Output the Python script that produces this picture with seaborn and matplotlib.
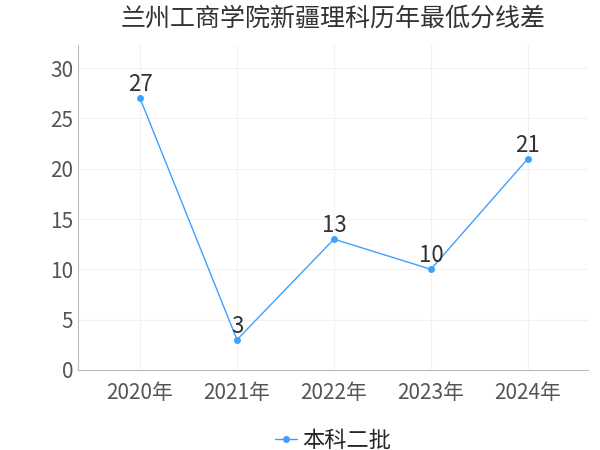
import matplotlib
matplotlib.use('Agg')
import matplotlib.pyplot as plt
import seaborn as sns
import pandas as pd

years = ['2020年', '2021年', '2022年', '2023年', '2024年']
diff = [27, 3, 13, 10, 21]
series_name = '本科二批'

sns.set_style('whitegrid')
plt.rcParams['font.family'] = ['Noto Sans CJK SC', 'DejaVu Sans']

df = pd.DataFrame({'year': years, 'diff': diff})
fig = plt.figure(figsize=(6, 4.5), dpi=100)
ax = fig.add_axes([0.13, 0.178, 0.85, 0.722])
sns.lineplot(data=df, x='year', y='diff', marker='o', color='#3fa0ff', linewidth=1,
             markersize=5, markeredgewidth=0, label=series_name, ax=ax, sort=False)
for i, v in enumerate(diff):
    ax.text(i, v + 0.2, str(v), ha='center', va='bottom', fontsize=16, color='#333333')

ax.set_xlim(-0.64, 4.62)
ax.set_ylim(0, 32.3)
ax.set_yticks([0, 5, 10, 15, 20, 25, 30])
ax.set_xlabel('')
ax.set_ylabel('')
ax.grid(color='#f2f2f2', linewidth=0.8)
for s in ['top', 'right']:
    ax.spines[s].set_visible(False)
for s in ['left', 'bottom']:
    ax.spines[s].set_visible(True)
    ax.spines[s].set_color('#bbbbbb')
ax.tick_params(axis='both', labelsize=15, colors='#555555', length=0)
ax.tick_params(axis='x', length=5, color='#bbbbbb')
ax.set_title('兰州工商学院新疆理科历年最低分线差', fontsize=18, color='#333333', pad=14)
ax.legend(loc='upper center', bbox_to_anchor=(0.5, -0.12), frameon=False, fontsize=16,
          handlelength=1.0, handletextpad=0.2)
fig.savefig('out.png', dpi=100)
